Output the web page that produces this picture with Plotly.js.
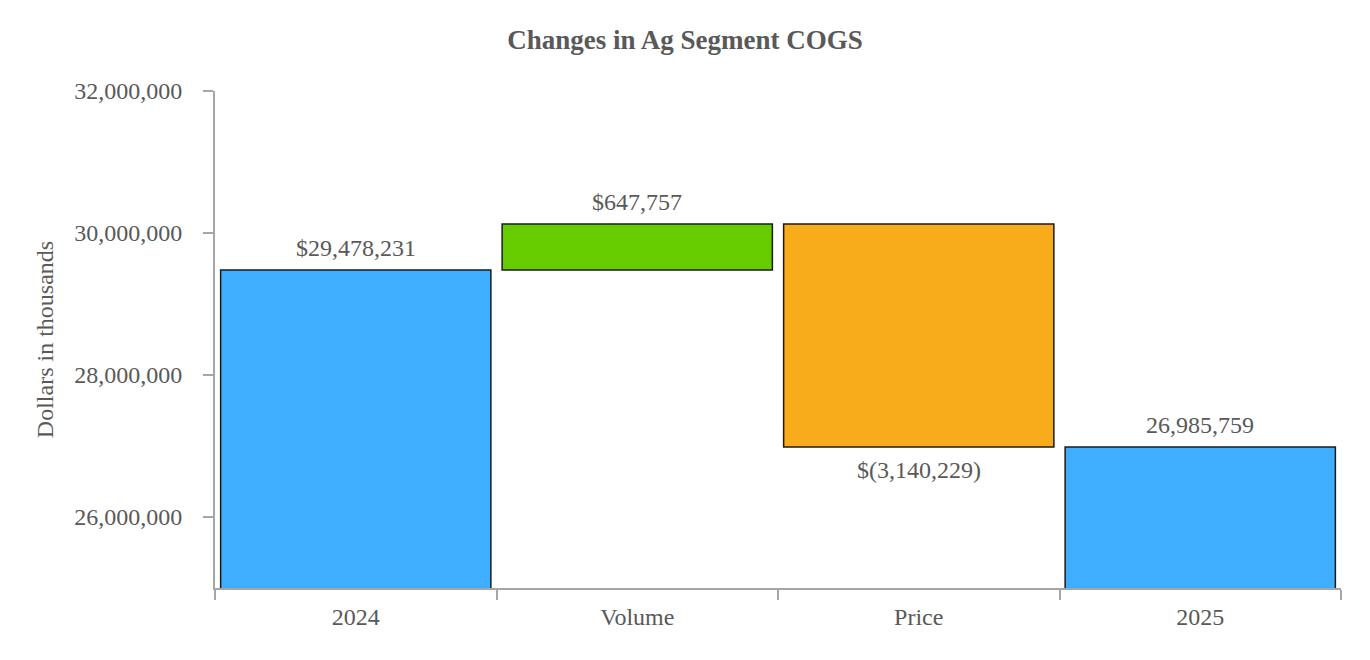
<!DOCTYPE html>
<html>
<head>
<meta charset="utf-8">
<script src="https://cdn.plot.ly/plotly-3.0.1.min.js"></script>
<style>html,body{margin:0;padding:0;background:#fff;}#chart{width:1370px;height:660px;}</style>
</head>
<body>
<div id="chart"></div>
<script>
const categories = ["2024", "Volume", "Price", "2025"];
const measures = ["absolute", "relative", "relative", "total"];
const values = [29478231, 647757, -3140229, 0];
const labels = ["$29,478,231", "$647,757", "$(3,140,229)", "26,985,759"];
const yTickVals = [26000000, 28000000, 30000000, 32000000];
const yTickText = ["26,000,000", "28,000,000", "30,000,000", "32,000,000"];

const fontFam = "'Liberation Serif', 'Times New Roman', serif";
const grey = "#595959";

const trace = {
  type: "waterfall",
  x: categories,
  y: values,
  measure: measures,
  textposition: "none",
  cliponaxis: false,
  connector: {visible: false},
  increasing: {marker: {color: "#66CC00", line: {color: "#1a1a1a", width: 1.5}}},
  decreasing: {marker: {color: "#F9AC1B", line: {color: "#1a1a1a", width: 1.5}}},
  totals: {marker: {color: "#3FAEFF", line: {color: "#1a1a1a", width: 1.5}}},
  hoverinfo: "x+y"
};

// label annotations at each bar's end, computed from the data arrays
const annotations = [];
let running = 0;
for (let i = 0; i < categories.length; i++) {
  if (measures[i] === "absolute") { running = values[i]; }
  else if (measures[i] === "relative") { running += values[i]; }
  const end = running;
  const down = measures[i] === "relative" && values[i] < 0;
  annotations.push({
    x: i, y: end, xref: "x", yref: "y",
    text: labels[i], showarrow: false,
    yanchor: down ? "top" : "bottom",
    yshift: down ? -8 : 7,
    font: {family: fontFam, size: 24, color: grey}
  });
}

const layout = {
  width: 1370,
  height: 660,
  margin: {l: 215, r: 29, t: 91, b: 72},
  paper_bgcolor: "#fff",
  plot_bgcolor: "#fff",
  showlegend: false,
  waterfallgap: 0.04,
  font: {family: fontFam, color: grey, size: 24},
  annotations: annotations,
  title: {
    text: "<b>Changes in Ag Segment COGS</b>",
    x: 0.5, xanchor: "center",
    y: 0.94, yanchor: "middle",
    font: {family: fontFam, size: 27, color: grey}
  },
  xaxis: {
    type: "category",
    range: [-0.5, categories.length - 0.5],
    showline: true,
    linecolor: "#A6A6A6",
    linewidth: 2,
    ticks: "outside",
    tickson: "boundaries",
    ticklen: 10,
    tickcolor: "#A6A6A6",
    tickwidth: 2,
    ticklabelstandoff: 6,
    showgrid: false,
    zeroline: false,
    tickfont: {family: fontFam, size: 24, color: grey}
  },
  yaxis: {
    range: [25000000, 32000000],
    tickvals: yTickVals,
    ticktext: yTickText,
    showline: true,
    linecolor: "#A6A6A6",
    linewidth: 2,
    ticks: "outside",
    ticklen: 10,
    tickcolor: "#A6A6A6",
    tickwidth: 2,
    ticklabelstandoff: 16,
    showgrid: false,
    zeroline: false,
    tickfont: {family: fontFam, size: 24, color: grey},
    title: {text: "Dollars in thousands", standoff: 14, font: {family: fontFam, size: 24, color: grey}}
  }
};

Plotly.newPlot("chart", [trace], layout, {displayModeBar: false, staticPlot: true});
</script>
</body>
</html>
